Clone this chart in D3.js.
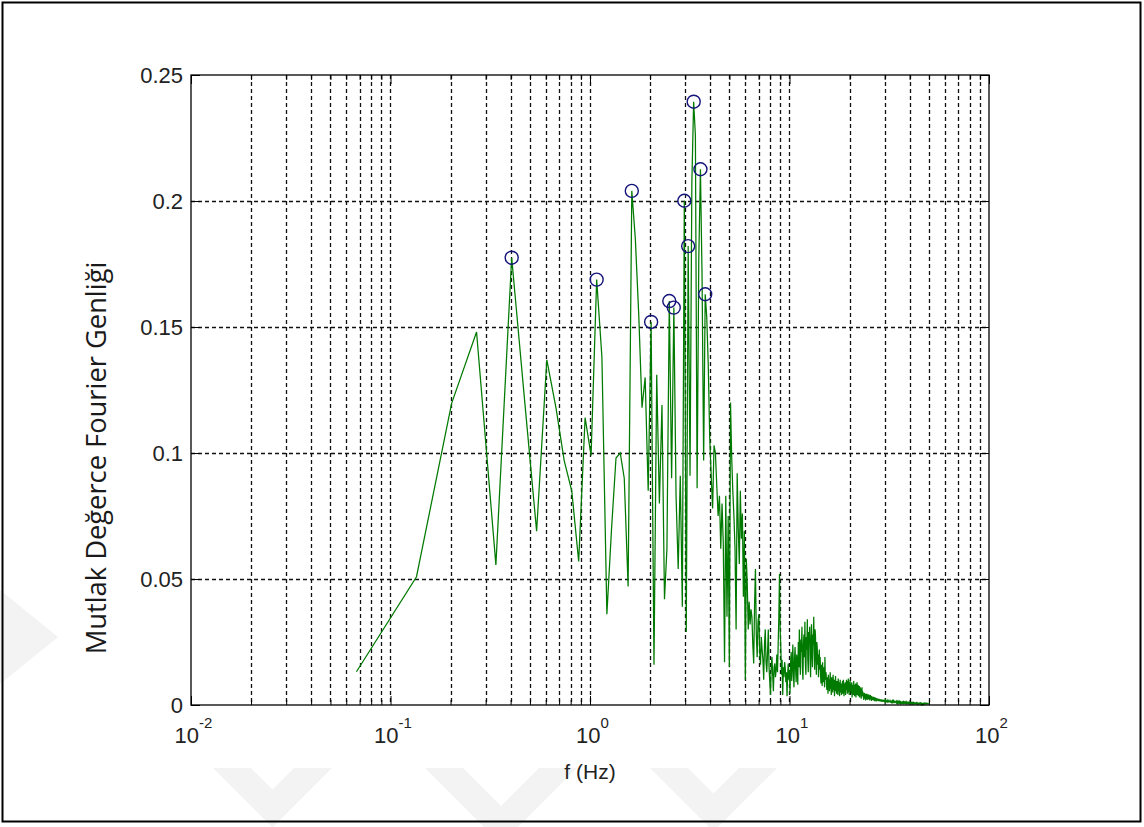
<!DOCTYPE html>
<html><head><meta charset="utf-8">
<script src="https://cdn.jsdelivr.net/npm/d3@7"></script>
<style>body{margin:0;background:#fff} svg{display:block}</style>
</head><body><svg id="c" width="1144" height="827"></svg>
<script>
// ---------------- DATA ----------------
const df = 0.0675;            // frequency step (Hz) of the spectrum bins
const ampScale = 1e-4;        // amplitudes below are in units of 1e-4

// bins 1..60  (0.07 - 4.0 Hz)
const ampLow = [132,509,1197,1480,556,1775,1190,690,1370,1180,
  970,850,570,1140,990,1688,1380,360,700,980,
  1000,900,470,2040,1850,1550,1180,1300,850,1520,
  160,1310,800,1190,420,620,1603,900,1577,830,
  540,910,390,2001,290,1821,910,2070,2394,2260,
  860,1770,2126,1700,970,1630,1540,1350,1060,910];

// bins 61..150 (4.1 - 10.1 Hz)
const ampMid = [780,1030,1000,870,750,830,620,800,640,170,
  830,350,750,150,1200,985,850,750,620,300,
  920,700,560,850,660,760,430,690,100,580,
  480,300,410,320,380,350,240,165,400,540,
  280,190,330,360,210,160,270,220,180,100,
  240,300,170,130,210,300,150,90,40,160,
  190,120,55,150,165,110,140,200,130,240,
  350,520,300,230,120,180,40,150,110,170,
  150,90,130,35,120,165,100,140,45,165];

// bins 151..300 (10.2 - 20.3 Hz)
const ampHigh = [210,95,160,240,120,70,185,230,140,90,200,165,80,250,150,
  300,180,120,260,210,310,150,100,240,280,190,330,160,120,270,
  220,340,180,130,290,250,310,170,110,260,320,200,150,280,240,
  350,210,140,300,270,190,120,250,230,160,200,110,180,220,140,
  190,120,85,160,140,75,170,110,90,150,130,70,190,100,120,
  130,80,60,110,95,45,120,75,100,55,90,130,65,85,40,
  110,70,90,50,120,80,60,100,35,85,75,115,55,90,45,
  95,60,80,40,105,70,55,90,35,75,100,50,65,85,40,
  80,55,95,45,70,100,60,35,85,75,50,90,40,65,80,
  100,60,85,45,95,70,105,50,80,40,90,65,100,55,75];

// bins 301..420 (20.3 - 28.4 Hz)
const ampTailA = [85,45,70,90,30,60,80,50,75,40,95,55,65,35,80,
  70,45,85,30,60,75,50,90,40,65,55,80,35,70,45,
  60,75,30,55,70,40,65,50,25,60,45,70,35,55,40,
  50,30,45,20,40,35,48,25,42,30,38,18,45,28,40,
  32,22,44,30,36,20,40,26,34,42,24,30,38,18,35,
  28,40,22,32,26,36,16,30,34,24,28,20,33,25,30,
  18,28,32,22,26,15,30,24,20,28,22,26,14,25,21,
  27,18,24,20,26,15,22,25,18,21,16,24,19,22,14];

// bins 421..520 (28.4 - 35.1 Hz)
const ampTailB = [22,17,20,14,23,18,21,13,19,16,22,15,18,20,12,
  19,16,21,14,18,15,20,13,17,19,14,16,18,12,17,
  15,19,13,16,18,12,15,17,14,16,11,15,18,13,14,
  16,12,15,14,17,11,13,15,12,16,13,14,11,15,12,
  14,13,16,11,13,15,12,14,10,13,15,12,11,14,12,
  13,10,14,12,13,11,12,14,10,12,13,11,12,10,13,
  11,12,10,13,11,12,9,11,12,10];

// bins 521..745 (35.2 - 50.3 Hz)
const ampTailC = [11,10,12,9,11,10,12,9,10,11,9,11,10,8,11,
  10,9,11,10,9,12,9,10,8,10,11,9,10,9,8,
  10,9,11,8,9,10,9,8,10,9,8,10,9,9,8,
  10,8,9,9,8,10,8,9,7,9,8,9,8,7,9,
  8,9,8,7,9,8,8,7,9,8,7,8,8,7,9,
  7,8,8,7,8,7,8,7,7,8,7,8,6,8,7,
  7,8,6,7,7,8,6,7,7,6,8,7,6,7,7,
  6,7,6,7,6,7,7,6,6,7,6,7,6,6,7,
  6,6,5,7,6,6,5,6,7,5,6,6,5,6,6,
  5,6,5,6,6,5,5,6,5,6,5,5,6,5,5,
  6,5,5,4,6,5,5,4,5,5,6,4,5,5,4,
  5,5,4,5,5,4,5,4,5,5,4,4,5,4,5,
  4,5,4,4,5,4,4,5,4,4,4,5,4,4,4,
  5,4,4,4,4,5,4,4,4,4,4,5,4,4,4,
  4,4,4,5,4,4,4,4,4,4,4,4,4,4,4];

// detected peaks (circles)
const peakFreq = [0.405, 1.08, 1.62, 2.025, 2.4975, 2.63, 2.97, 3.105, 3.31, 3.578, 3.78];
const peakAmp  = [0.1775, 0.1688, 0.204, 0.152, 0.1603, 0.1577, 0.2001, 0.1821, 0.2394, 0.2126, 0.163];

const yTicks = [0, 0.05, 0.1, 0.15, 0.2, 0.25];
const yTickLabels = ["0", "0.05", "0.1", "0.15", "0.2", "0.25"];
const xDecadeExp = [-2, -1, 0, 1, 2];
const xTitle = "f (Hz)";
const yTitle = "Mutlak Değerce Fourier Genliği";

// ---------------- CHART ----------------
const svg = d3.select("#c");
const L = 191, R = 989, T = 75, B = 705;
const x = d3.scaleLog().domain([0.01, 100]).range([L, R]);
const y = d3.scaleLinear().domain([0, 0.25]).range([B, T]);

const amps = [].concat(ampLow, ampMid, ampHigh, ampTailA, ampTailB, ampTailC).map(v => v * ampScale);
const series = amps.map((a, i) => ({f: (i + 1) * df, a}));
const peaks = peakFreq.map((f, i) => ({f, a: peakAmp[i]}));

// watermark (decorative, very light)
const wm = svg.append("g").attr("fill", "#f3f3f3");
wm.append("polygon").attr("points", "0,590 58,637 0,684");
[[213, 332], [425, 577], [650, 777]].forEach(([a, b]) => {
  const cx = (a + b) / 2, t = 768, w = 38;
  wm.append("polygon").attr("points",
    `${a},${t} ${a + w},${t} ${cx},${t + (cx - a - w)} ${b - w},${t} ${b},${t} ${cx},${t + (cx - a)}`);
});

// outer frame
svg.append("rect").attr("x", 2.5).attr("y", 2.5).attr("width", 1138).attr("height", 819)
  .attr("fill", "none").attr("stroke", "#000").attr("stroke-width", 2);

// minor & major x values
const majors = xDecadeExp.map(e => Math.pow(10, e));
const allX = [];
for (let e = -2; e < 2; e++) for (let m = 1; m <= 9; m++) allX.push(m * Math.pow(10, e));
allX.push(100);
const minors = allX.filter(v => !majors.some(M => Math.abs(M - v) / v < 1e-9));

// grid
const grid = svg.append("g").attr("stroke", "#111").attr("stroke-width", 1.3)
  .attr("stroke-dasharray", "4,3").attr("fill", "none");
allX.filter(v => v > 0.0100001 && v < 99.999).forEach(v => {
  const px = Math.round(x(v)) + 0.5;
  grid.append("line").attr("x1", px).attr("x2", px).attr("y1", T).attr("y2", B);
});
yTicks.filter(v => v > 0 && v < 0.25).forEach(v => {
  const py = Math.round(y(v)) + 0.5;
  grid.append("line").attr("x1", L).attr("x2", R).attr("y1", py).attr("y2", py);
});

// axes (ticks inward)
const fontFam = "'Liberation Sans', Arial, Helvetica, sans-serif";
function styleAxis(g) {
  g.select(".domain").remove();
  g.selectAll(".tick line").attr("stroke", "#000").attr("stroke-width", 1);
}
svg.append("g").attr("transform", `translate(0,${B})`)
  .call(d3.axisBottom(x).tickValues(minors).tickFormat("").tickSize(-5)).call(styleAxis);
svg.append("g").attr("transform", `translate(0,${T})`)
  .call(d3.axisTop(x).tickValues(minors).tickFormat("").tickSize(-5)).call(styleAxis);
svg.append("g").attr("transform", `translate(0,${T})`)
  .call(d3.axisTop(x).tickValues(majors).tickFormat("").tickSize(-9)).call(styleAxis);
const xAx = svg.append("g").attr("transform", `translate(0,${B})`)
  .call(d3.axisBottom(x).tickValues(majors).tickFormat("").tickSize(-9)).call(styleAxis);
xAx.selectAll(".tick text").each(function(d, i) {
  const t = d3.select(this);
  t.text(null).attr("y", 38).attr("dy", null).attr("x", 2)
   .attr("font-family", fontFam).attr("font-size", 22).attr("fill", "#222")
   .attr("text-anchor", "middle");
  t.append("tspan").text("10");
  t.append("tspan").attr("dy", -15).attr("font-size", 15).text(xDecadeExp[i]);
});
const yAx = svg.append("g").attr("transform", `translate(${L},0)`)
  .call(d3.axisLeft(y).tickValues(yTicks).tickFormat((d, i) => yTickLabels[i]).tickSize(-9).tickPadding(8))
  .call(styleAxis);
yAx.selectAll(".tick text").attr("font-family", fontFam).attr("font-size", 22).attr("fill", "#222")
  .attr("dy", "0.36em");
svg.append("g").attr("transform", `translate(${R},0)`)
  .call(d3.axisRight(y).tickValues(yTicks).tickFormat("").tickSize(-9)).call(styleAxis);

// data line
const plot = svg.append("g");
plot.append("path").datum(series)
  .attr("d", d3.line().x(d => x(d.f)).y(d => y(d.a)))
  .attr("fill", "none").attr("stroke", "#007a00").attr("stroke-width", 1.25)
  .attr("stroke-linejoin", "miter");

// peak circles
plot.selectAll("circle").data(peaks).join("circle")
  .attr("cx", d => x(d.f)).attr("cy", d => y(d.a)).attr("r", 6.5)
  .attr("fill", "none").attr("stroke", "#14147a").attr("stroke-width", 1.4);

// box
svg.append("rect").attr("x", L).attr("y", T).attr("width", R - L).attr("height", B - T)
  .attr("fill", "none").attr("stroke", "#000").attr("stroke-width", 1.3);

// titles
svg.append("text").attr("x", (L + R) / 2).attr("y", 779).attr("text-anchor", "middle")
  .attr("font-family", fontFam).attr("font-size", 21).attr("fill", "#222").text(xTitle);
const yt = svg.append("text").attr("transform", `translate(106,${(T + B) / 2 + 68}) rotate(-90)`)
  .attr("text-anchor", "middle")
  .attr("font-family", "'Open Sans', 'Noto Sans', sans-serif").attr("font-size", 23)
  .attr("fill", "#1a1a1a").text(yTitle);
// fit to the measured span in the reference (~393 px)
const len = yt.node().getComputedTextLength();
yt.attr("font-size", 23 * 393 / len);
</script></body></html>
